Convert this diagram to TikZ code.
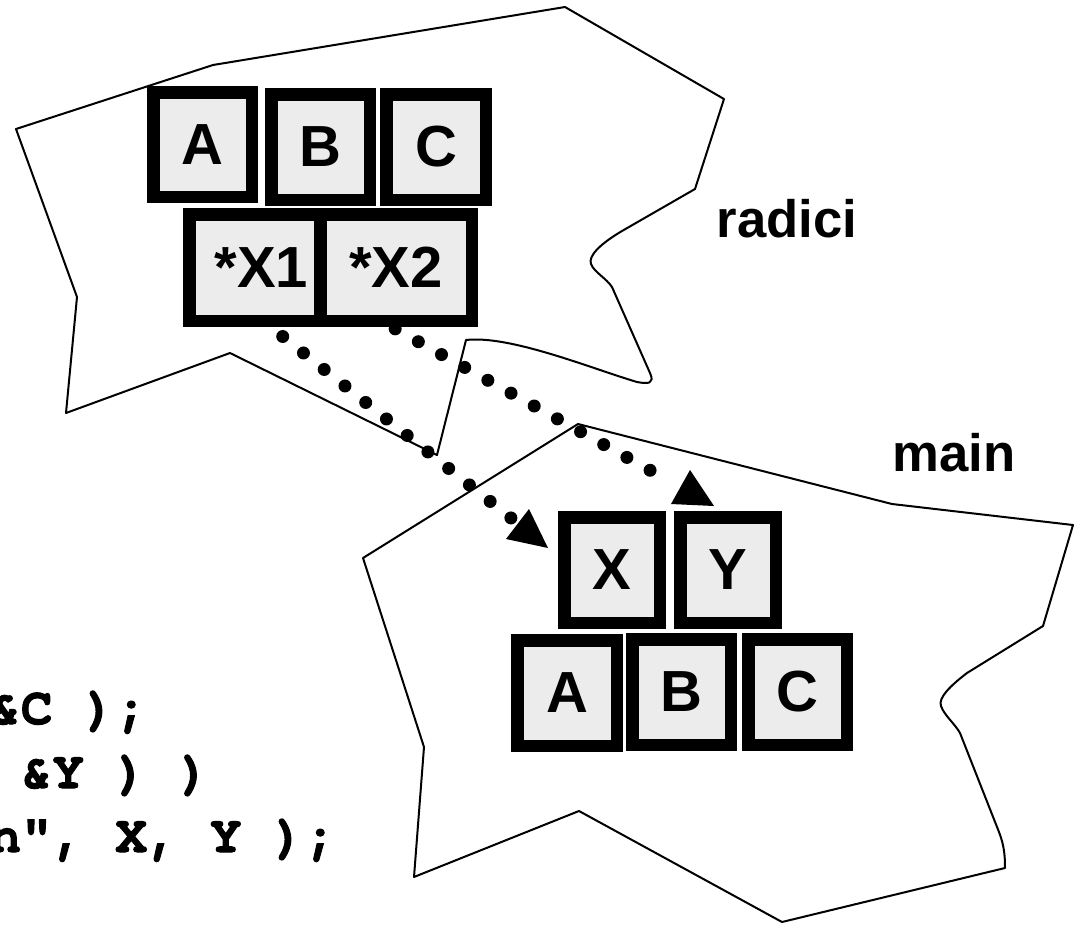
\documentclass[tikz,border=0pt]{standalone}
\usepackage{fontspec}
\setmainfont{Liberation Sans}
\newfontfamily\codefont[Ligatures=TeXOff,FakeBold=2]{texgyrecursor-bold.otf}
\definecolor{cellgray}{HTML}{ECECEC}
\begin{document}
\begin{tikzpicture}[x=0.75pt,y=-0.75pt,
  outline/.style={draw=black, line width=1.5pt, line join=round},
  cellbox/.style 2 args={draw=black, fill=cellgray, line width=9.375pt, inner sep=0pt,
    minimum width={(#1-12.5)*0.75pt}, minimum height={(#2-12.5)*0.75pt},
    font=\fontsize{43.5pt}{50pt}\selectfont\bfseries},
  scopelabel/.style={inner sep=0pt, anchor=base, font=\fontsize{39.5pt}{45pt}\selectfont\bfseries},
  codeline/.style={inner sep=0pt, anchor=base west, font=\codefont\fontsize{39.375pt}{45pt}\selectfont},
  dotline/.style={line width=9.75pt, line cap=round, dash pattern=on 0pt off 19.875pt},
  tiphead/.style={fill=black}]

\useasboundingbox (0,0) rectangle (1075,925);
\clip (0,0) rectangle (1075,925);
\fill[white] (0,0) rectangle (1075,925);

% scope of radici
\draw[outline] (16,129) -- (213,65) -- (565,7) -- (724,99) -- (695,189) -- (622,231)
  .. controls (600,244) and (588,256) .. (591,264)
  .. controls (594,272) and (606,278) .. (612,287) -- (650,373)
  .. controls (655,384) and (648,384) .. (637,382)
  .. controls (590,368) and (510,335) .. (466,340)
  -- (437,455) -- (230,353) -- (66,413) -- (77,297) -- cycle;

% scope of main
\draw[outline] (578,424) -- (892,504) -- (1073,525) -- (1043,626) -- (967,673)
  .. controls (950,686) and (938,698) .. (941,706)
  .. controls (944,715) and (955,724) .. (960,733) -- (999,832)
  .. controls (1004,845) and (1005,855) .. (1005,868)
  -- (782,922) -- (579,811) -- (414,877) -- (424,747) -- (363,558) -- cycle;

% pointer links
\coordinate (s1) at (262,320);
\coordinate (e1) at (511,518);
\coordinate (s2) at (372,316);
\coordinate (e2) at (673,483);
\draw[dotline] (s1) -- (e1);
\draw[dotline] (s2) -- (e2);

% variables of radici
\node[cellbox={111}{117}] (rA) at (202.5,144.5) {A};
\node[cellbox={111}{118}] (rB) at (320.5,147) {B};
\node[cellbox={112}{118}] (rC) at (436,147) {C};
\node[cellbox={157}{119}] (rX1) at (261.5,267.5) {*X1};
\node[cellbox={164}{119}] (rX2) at (396,267.5) {*X2};

% variables of main
\node[cellbox={108}{118}] (mX) at (612,570) {X};
\node[cellbox={108}{118}] (mY) at (728,570) {Y};
\node[cellbox={112}{118}] (mA) at (567,693) {A};
\node[cellbox={111}{118}] (mB) at (681.5,692) {B};
\node[cellbox={111}{118}] (mC) at (797.5,692) {C};

% arrow heads
\coordinate (h1tip) at (548,548);
\coordinate (h1a) at (529,509);
\coordinate (h1b) at (506,539);
\fill[tiphead] (h1tip) -- (h1a) -- (h1b) -- cycle;
\coordinate (h2tip) at (690,470);
\coordinate (h2a) at (671,504);
\coordinate (h2b) at (714,506);
\fill[tiphead] (h2tip) -- (h2a) -- (h2b) -- cycle;

% scope names
\node[scopelabel] (lradici) at (787,237) {radici};
\node[scopelabel] (lmain) at (954,471) {main};

% source code
\node[codeline] (code1) at (-10.75,724) {\&C );};
\node[codeline] (code2) at (20.75,788) {\&Y ) )};
\node[codeline] (code3) at (-10.75,852) {n", X, Y );};
\end{tikzpicture}
\end{document}
